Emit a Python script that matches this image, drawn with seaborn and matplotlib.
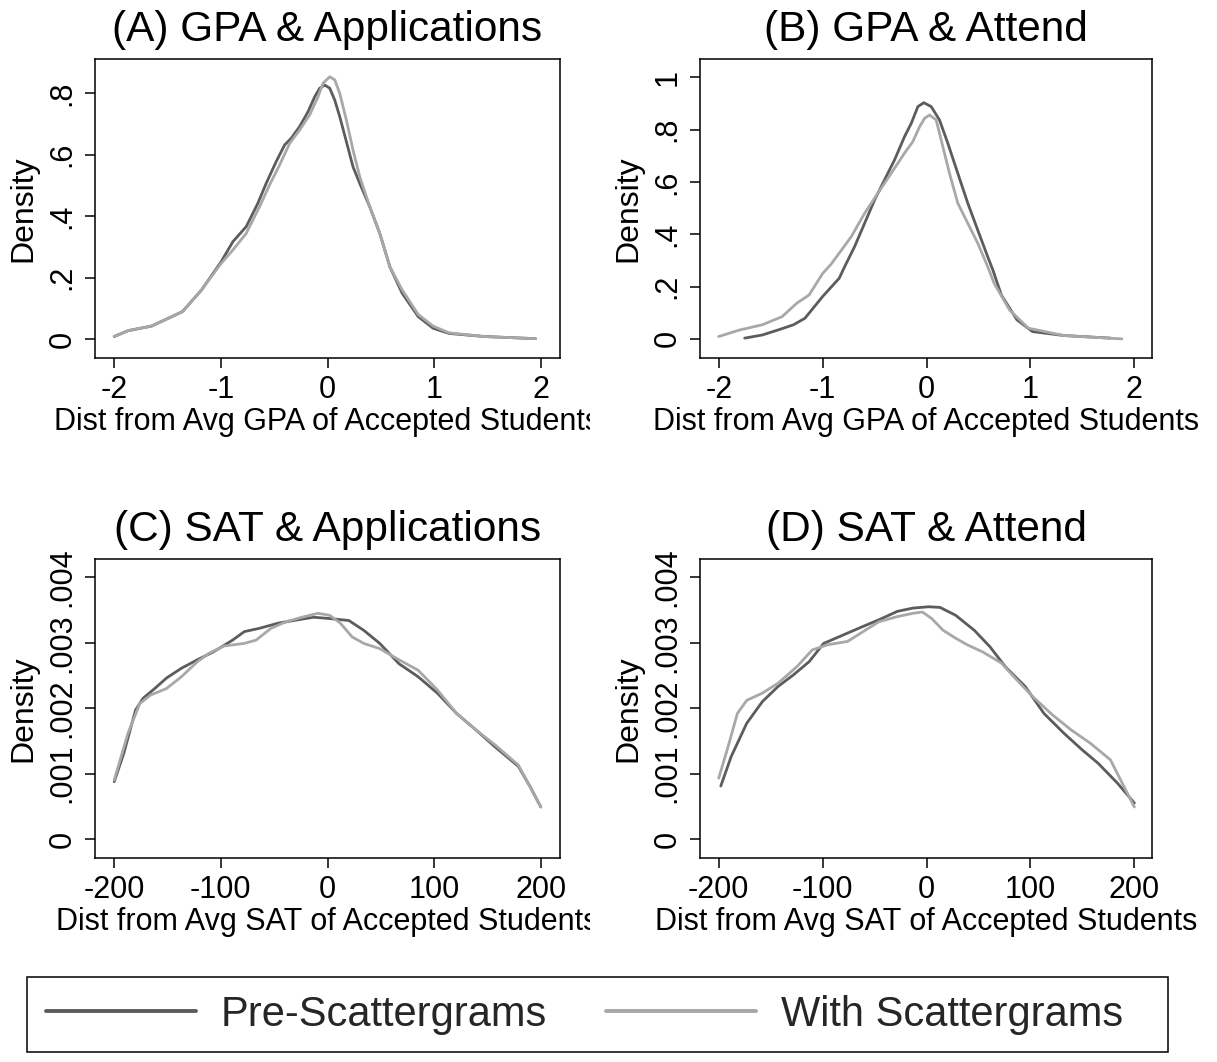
import matplotlib
matplotlib.use("Agg")
import matplotlib.pyplot as plt
from matplotlib.transforms import Bbox, TransformedBbox
from matplotlib.lines import Line2D
from matplotlib.patches import Rectangle
import seaborn as sns
import pandas as pd

# ---------------- data ----------------
SERIES = ["Pre-Scattergrams", "With Scattergrams"]
TITLES = ["(A) GPA & Applications", "(B) GPA & Attend",
          "(C) SAT & Applications", "(D) SAT & Attend"]
XLABEL_GPA = "Dist from Avg GPA of Accepted Students"
XLABEL_SAT = "Dist from Avg SAT of Accepted Students"

GPA_APP_PRE_X = [-2.0, -1.87, -1.65, -1.36, -1.18, -1.0, -0.887, -0.762, -0.653, -0.575, -0.481,
                 -0.402, -0.340, -0.261, -0.183, -0.120, -0.073, -0.026, 0.021, 0.068, 0.115, 0.177,
                 0.239, 0.302, 0.396, 0.490, 0.585, 0.70, 0.85, 0.99, 1.14, 1.47, 1.95]
GPA_APP_PRE_Y = [0.008, 0.027, 0.042, 0.089, 0.16, 0.25, 0.317, 0.366, 0.442, 0.507, 0.578,
                 0.632, 0.654, 0.692, 0.740, 0.789, 0.817, 0.827, 0.817, 0.778, 0.724, 0.643,
                 0.561, 0.507, 0.431, 0.344, 0.235, 0.149, 0.073, 0.035, 0.018, 0.008, 0.001]
GPA_APP_WITH_X = [-2.0, -1.87, -1.65, -1.36, -1.18, -1.0, -0.887, -0.762, -0.637, -0.543, -0.449,
                  -0.355, -0.261, -0.167, -0.089, -0.042, 0.021, 0.068, 0.115, 0.177, 0.239, 0.302,
                  0.396, 0.490, 0.585, 0.70, 0.85, 0.99, 1.14, 1.47, 1.95]
GPA_APP_WITH_Y = [0.008, 0.027, 0.042, 0.089, 0.16, 0.245, 0.290, 0.344, 0.431, 0.502, 0.567,
                  0.637, 0.681, 0.730, 0.789, 0.833, 0.854, 0.844, 0.800, 0.713, 0.616, 0.529,
                  0.431, 0.344, 0.235, 0.16, 0.08, 0.042, 0.02, 0.008, 0.001]

GPA_ATT_PRE_X = [-1.75, -1.58, -1.43, -1.28, -1.17, -1.0, -0.84, -0.788, -0.692, -0.596, -0.5,
                 -0.404, -0.308, -0.212, -0.147, -0.083, -0.026, 0.045, 0.125, 0.205, 0.301, 0.397,
                 0.493, 0.589, 0.638, 0.72, 0.87, 1.02, 1.32, 1.77]
GPA_ATT_PRE_Y = [0.003, 0.015, 0.034, 0.054, 0.079, 0.162, 0.232, 0.276, 0.353, 0.442, 0.531,
                 0.608, 0.684, 0.773, 0.824, 0.888, 0.903, 0.888, 0.837, 0.748, 0.633, 0.519,
                 0.416, 0.314, 0.264, 0.168, 0.073, 0.028, 0.013, 0.003]
GPA_ATT_WITH_X = [-2.0, -1.8, -1.58, -1.39, -1.25, -1.13, -1.0, -0.92, -0.853, -0.724, -0.596,
                  -0.468, -0.34, -0.212, -0.132, -0.067, -0.019, 0.029, 0.093, 0.157, 0.221, 0.301,
                  0.397, 0.493, 0.589, 0.65, 0.80, 0.98, 1.32, 1.88]
GPA_ATT_WITH_Y = [0.009, 0.034, 0.054, 0.085, 0.136, 0.168, 0.25, 0.285, 0.321, 0.391, 0.480,
                  0.557, 0.633, 0.710, 0.754, 0.811, 0.843, 0.856, 0.837, 0.735, 0.633, 0.519,
                  0.442, 0.366, 0.276, 0.213, 0.11, 0.041, 0.013, 0.0]

SAT_APP_PRE_X = [-200, -191, -180, -173, -162, -151, -137, -122, -107, -89, -78, -64, -46, -28,
                 -13, 2, 20, 34, 49, 67, 85, 103, 121, 139, 157, 179, 190, 200]
SAT_APP_PRE_Y = [0.000876, 0.00131, 0.00197, 0.00215, 0.0023, 0.00246, 0.00261, 0.00274, 0.00286,
                 0.00304, 0.00317, 0.00322, 0.0033, 0.00335, 0.00339, 0.00337, 0.00334, 0.00319,
                 0.00299, 0.00268, 0.00248, 0.00223, 0.00192, 0.00167, 0.00141, 0.00111, 0.0008, 0.00049]
SAT_APP_WITH_X = [-200, -187, -176, -166, -151, -137, -122, -111, -97, -78, -67, -53, -39, -24,
                  -9, 2, 12, 23, 34, 49, 67, 85, 103, 121, 139, 157, 179, 200]
SAT_APP_WITH_Y = [0.0009, 0.00162, 0.00207, 0.0022, 0.0023, 0.00248, 0.00271, 0.00284, 0.00295,
                  0.00299, 0.00304, 0.00322, 0.00332, 0.00339, 0.00345, 0.00342, 0.0033, 0.00309,
                  0.00299, 0.00291, 0.00274, 0.00258, 0.00228, 0.00192, 0.00167, 0.00144, 0.00113, 0.00049]

SAT_ATT_PRE_X = [-198, -188, -173, -158, -143, -128, -113, -99, -80, -61, -46, -28, -13, 2, 13,
                 28, 46, 61, 76, 95, 113, 132, 150, 165, 184, 200]
SAT_ATT_PRE_Y = [0.00081, 0.00126, 0.00177, 0.0021, 0.00233, 0.00251, 0.00271, 0.00299, 0.00312,
                 0.00325, 0.00335, 0.00348, 0.00353, 0.00355, 0.00354, 0.00342, 0.00319, 0.00294,
                 0.00263, 0.00233, 0.00192, 0.00162, 0.00136, 0.00116, 0.00085, 0.00055]
SAT_ATT_WITH_X = [-200, -191, -182, -173, -158, -143, -125, -110, -95, -76, -61, -46, -28, -13,
                  -4, 5, 16, 28, 39, 54, 72, 87, 102, 121, 139, 158, 177, 200]
SAT_ATT_WITH_Y = [0.00093, 0.00141, 0.00192, 0.00212, 0.00223, 0.00238, 0.00263, 0.00289, 0.00297,
                  0.00302, 0.00317, 0.00332, 0.0034, 0.00345, 0.00347, 0.00337, 0.00319, 0.00307,
                  0.00297, 0.00286, 0.00269, 0.00243, 0.00218, 0.0019, 0.00167, 0.00146, 0.00121, 0.00049]

GPA_XTICKS = [-2, -1, 0, 1, 2]
GPA_XTICKLABELS = ["-2", "-1", "0", "1", "2"]
SAT_XTICKS = [-200, -100, 0, 100, 200]
SAT_XTICKLABELS = ["-200", "-100", "0", "100", "200"]
A_YTICKS = [0, 0.2, 0.4, 0.6, 0.8]
A_YTICKLABELS = ["0", ".2", ".4", ".6", ".8"]
B_YTICKS = [0, 0.2, 0.4, 0.6, 0.8, 1.0]
B_YTICKLABELS = ["0", ".2", ".4", ".6", ".8", "1"]
SAT_YTICKS = [0, 0.001, 0.002, 0.003, 0.004]
SAT_YTICKLABELS = ["0", ".001", ".002", ".003", ".004"]

# ---------------- style ----------------
sns.set_style("ticks")
plt.rcParams["font.family"] = ["Liberation Sans", "DejaVu Sans"]
DARK = "#5c5c5c"
LIGHT = "#a8a8a8"
PALETTE = {SERIES[0]: DARK, SERIES[1]: LIGHT}

W, H = 1217, 1062
fig = plt.figure(figsize=(W / 100, H / 100), dpi=100)
fig.patch.set_facecolor("white")


def frac_rect(l, t, r, b):
    return [l / W, 1 - b / H, (r - l) / W, (b - t) / H]


panels = [
    dict(rect=frac_rect(95, 59, 560, 358), pre=(GPA_APP_PRE_X, GPA_APP_PRE_Y),
         wth=(GPA_APP_WITH_X, GPA_APP_WITH_Y), xlim=(-2.18, 2.18), ylim=(-0.062, 0.912),
         xt=(GPA_XTICKS, GPA_XTICKLABELS), yt=(A_YTICKS, A_YTICKLABELS), xl=XLABEL_GPA, clip=True),
    dict(rect=frac_rect(700, 59, 1152, 358), pre=(GPA_ATT_PRE_X, GPA_ATT_PRE_Y),
         wth=(GPA_ATT_WITH_X, GPA_ATT_WITH_Y), xlim=(-2.18, 2.17), ylim=(-0.073, 1.07),
         xt=(GPA_XTICKS, GPA_XTICKLABELS), yt=(B_YTICKS, B_YTICKLABELS), xl=XLABEL_GPA, clip=False),
    dict(rect=frac_rect(95, 559, 560, 858), pre=(SAT_APP_PRE_X, SAT_APP_PRE_Y),
         wth=(SAT_APP_WITH_X, SAT_APP_WITH_Y), xlim=(-218, 218), ylim=(-0.00029, 0.00428),
         xt=(SAT_XTICKS, SAT_XTICKLABELS), yt=(SAT_YTICKS, SAT_YTICKLABELS), xl=XLABEL_SAT, clip=True),
    dict(rect=frac_rect(700, 559, 1152, 858), pre=(SAT_ATT_PRE_X, SAT_ATT_PRE_Y),
         wth=(SAT_ATT_WITH_X, SAT_ATT_WITH_Y), xlim=(-218, 217), ylim=(-0.00029, 0.00428),
         xt=(SAT_XTICKS, SAT_XTICKLABELS), yt=(SAT_YTICKS, SAT_YTICKLABELS), xl=XLABEL_SAT, clip=False),
]

for title, p in zip(TITLES, panels):
    ax = fig.add_axes(p["rect"])
    df = pd.concat([
        pd.DataFrame({"x": p["pre"][0], "density": p["pre"][1], "series": SERIES[0]}),
        pd.DataFrame({"x": p["wth"][0], "density": p["wth"][1], "series": SERIES[1]}),
    ], ignore_index=True)
    sns.lineplot(data=df, x="x", y="density", hue="series", palette=PALETTE,
                 estimator=None, sort=False, linewidth=2.0, legend=False, ax=ax)
    ax.set_xlim(*p["xlim"])
    ax.set_ylim(*p["ylim"])
    ax.set_xticks(p["xt"][0], p["xt"][1])
    ax.set_yticks(p["yt"][0], p["yt"][1])
    ax.tick_params(axis="both", direction="out", length=7.5, width=1.1, color="black",
                   labelsize=22, labelcolor="black", pad=5)
    for lab in ax.get_yticklabels():
        lab.set_rotation(90)
        lab.set_verticalalignment("center")
    for s in ax.spines.values():
        s.set_visible(True)
        s.set_color("black")
        s.set_linewidth(1.1)
    ax.set_title(title, fontsize=30.5, pad=13, color="black")
    ax.set_xlabel(p["xl"], fontsize=22, labelpad=1, color="black")
    ax.set_ylabel("Density", fontsize=23, labelpad=7, color="black")
    if p["clip"]:
        ax.xaxis.label.set_clip_on(True)
        ax.xaxis.label.set_clip_box(TransformedBbox(Bbox([[0, 0], [590 / W, 1]]), fig.transFigure))

# legend: entries left-aligned inside a full-width box
handles = [Line2D([], [], color=DARK, linewidth=2.8), Line2D([], [], color=LIGHT, linewidth=2.8)]
leg = fig.legend(handles, SERIES, loc="center left", ncol=2,
                 bbox_to_anchor=(46 / W, 1 - 1015 / H),
                 fontsize=30, frameon=False, handlelength=3.6, handletextpad=0.6,
                 borderpad=0, borderaxespad=0, columnspacing=1.4)
fig.add_artist(Rectangle((27 / W, 1 - 1052 / H), (1168 - 27) / W, 75 / H,
                         transform=fig.transFigure, fill=False, edgecolor="black", linewidth=1.1))

fig.savefig("out.png", dpi=100, facecolor="white")
